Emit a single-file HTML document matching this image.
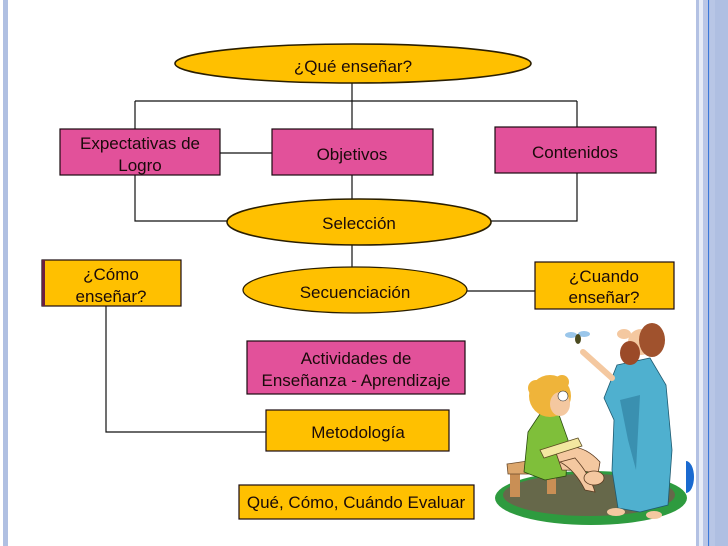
<!DOCTYPE html>
<html>
<head>
<meta charset="utf-8">
<style>
html,body{margin:0;padding:0;background:#fff;}
svg{display:block;}
text{font-family:"Liberation Sans",Arial,sans-serif;font-size:17px;fill:#1a0a0a;text-anchor:middle;}
</style>
</head>
<body>
<svg width="728" height="546" viewBox="0 0 728 546" xmlns="http://www.w3.org/2000/svg">
<rect x="0" y="0" width="728" height="546" fill="#ffffff"/>
<!-- side borders -->
<rect x="3" y="0" width="5" height="546" fill="#b0c0e2"/>
<rect x="696" y="0" width="3" height="546" fill="#b3c1e3"/>
<rect x="699" y="0" width="4" height="546" fill="#e6ecf7"/>
<rect x="703" y="0" width="5" height="546" fill="#b9c6e6"/>
<rect x="708" y="0" width="1.3" height="546" fill="#3a78d8"/>
<rect x="709.3" y="0" width="5.7" height="546" fill="#b8c6e6"/>
<rect x="715" y="0" width="13" height="546" fill="#afbfe2"/>

<!-- connectors -->
<g stroke="#111" stroke-width="1.2" fill="none">
<line x1="352" y1="83" x2="352" y2="129"/>
<line x1="135" y1="101" x2="577" y2="101"/>
<line x1="135" y1="101" x2="135" y2="129"/>
<line x1="577" y1="101" x2="577" y2="127"/>
<line x1="220" y1="153" x2="272" y2="153"/>
<line x1="352" y1="175" x2="352" y2="200"/>
<polyline points="135,175 135,221 240,221"/>
<polyline points="577,173 577,221 480,221"/>
<line x1="352" y1="245" x2="352" y2="268"/>
<line x1="467" y1="291" x2="535" y2="291"/>
<polyline points="106,306 106,432 266,432"/>
</g>

<!-- ellipses -->
<ellipse cx="353" cy="63.5" rx="178" ry="19.5" fill="#ffc000" stroke="#2a1e00" stroke-width="1.6"/>
<ellipse cx="359" cy="222" rx="132" ry="23" fill="#ffc000" stroke="#2a1e00" stroke-width="1.6"/>
<ellipse cx="355" cy="290" rx="112" ry="23" fill="#ffc000" stroke="#2a1e00" stroke-width="1.2"/>

<!-- pink boxes -->
<g fill="#e2519a" stroke="#1a0a10" stroke-width="1.2">
<rect x="60" y="129" width="160" height="46"/>
<rect x="272" y="129" width="161" height="46"/>
<rect x="495" y="127" width="161" height="46"/>
<rect x="247" y="341" width="218" height="53"/>
</g>
<!-- orange boxes -->
<g fill="#ffc000" stroke="#1a0a10" stroke-width="1.2">
<rect x="42" y="260" width="139" height="46"/>
<rect x="535" y="262" width="139" height="47"/>
<rect x="266" y="410" width="183" height="41"/>
<rect x="239" y="485" width="235" height="34"/>
</g>
<rect x="42" y="260" width="3" height="46" fill="#6a2040"/>

<!-- labels -->
<text x="353" y="72">¿Qué enseñar?</text>
<text x="140" y="149">Expectativas de</text>
<text x="140" y="171">Logro</text>
<text x="352" y="160">Objetivos</text>
<text x="575" y="158">Contenidos</text>
<text x="359" y="229">Selección</text>
<text x="111" y="280">¿Cómo</text>
<text x="111" y="302">enseñar?</text>
<text x="355" y="298">Secuenciación</text>
<text x="604" y="282">¿Cuando</text>
<text x="604" y="303">enseñar?</text>
<text x="356" y="364">Actividades de</text>
<text x="356" y="386">Enseñanza - Aprendizaje</text>
<text x="358" y="438">Metodología</text>
<text x="356" y="508">Qué, Cómo, Cuándo Evaluar</text>

<!-- blue D shape -->
<path d="M686,461 A8,16 0 0 1 686,493 Z" fill="#1a6ad0"/>

<!-- clipart -->
<ellipse cx="591" cy="498" rx="96" ry="27" fill="#2e9b3f"/>
<ellipse cx="589" cy="495" rx="86" ry="21" fill="#66684a"/>
<!-- stool -->
<rect x="510" y="472" width="10" height="25" fill="#c98f55"/>
<rect x="547" y="472" width="9" height="22" fill="#c98f55"/>
<polygon points="507,464 548,458 562,464 560,474 508,474" fill="#dca66c" stroke="#6a4a2a" stroke-width="0.8"/>
<!-- boy -->
<polygon points="524,472 528,432 540,414 558,412 568,440 566,476 545,480" fill="#7fbf3a" stroke="#2a4a10" stroke-width="0.8"/>
<path d="M555,450 Q580,440 600,462 L598,474 Q585,470 562,470 Z" fill="#f4c8a0" stroke="#5a3a20" stroke-width="0.8"/>
<path d="M560,462 Q575,470 585,490 L595,492 Q590,475 575,458 Z" fill="#f4c8a0" stroke="#5a3a20" stroke-width="0.8"/>
<ellipse cx="594" cy="478" rx="10" ry="7" fill="#f4c8a0" stroke="#5a3a20" stroke-width="0.8"/>
<polygon points="540,450 578,438 582,446 544,458" fill="#f3e7a0" stroke="#5a4a20" stroke-width="0.8"/>
<circle cx="550" cy="396" r="21" fill="#efb43a"/>
<circle cx="536" cy="388" r="8" fill="#efb43a"/>
<circle cx="562" cy="382" r="7" fill="#efb43a"/>
<ellipse cx="560" cy="404" rx="10" ry="12" fill="#f4c8a0"/>
<circle cx="563" cy="396" r="5" fill="#ffffff" stroke="#333" stroke-width="0.6"/>
<!-- man -->
<polygon points="617,365 650,358 666,385 672,450 668,505 640,512 618,508 612,470 614,420 604,398" fill="#4fb0cf" stroke="#1f5a70" stroke-width="0.8"/>
<polygon points="620,400 640,395 636,470 628,440" fill="#3a90b0"/>
<path d="M612,378 L583,352" stroke="#f4c8a0" stroke-width="6" stroke-linecap="round"/>
<circle cx="641" cy="342" r="13" fill="#f4c8a0"/>
<ellipse cx="652" cy="340" rx="13" ry="17" fill="#a0522d"/>
<ellipse cx="630" cy="353" rx="10" ry="12" fill="#9b4a28"/>
<ellipse cx="624" cy="334" rx="7" ry="5" fill="#f4c8a0"/>
<ellipse cx="616" cy="512" rx="9" ry="4" fill="#f4c8a0"/>
<ellipse cx="654" cy="515" rx="8" ry="4" fill="#f4c8a0"/>
<!-- bug -->
<ellipse cx="571" cy="335" rx="6" ry="3" fill="#8fc0e8" opacity="0.9"/>
<ellipse cx="584" cy="334" rx="6" ry="3" fill="#8fc0e8" opacity="0.9"/>
<ellipse cx="578" cy="339" rx="3" ry="5" fill="#4a4a20"/>
</svg>
</body>
</html>
